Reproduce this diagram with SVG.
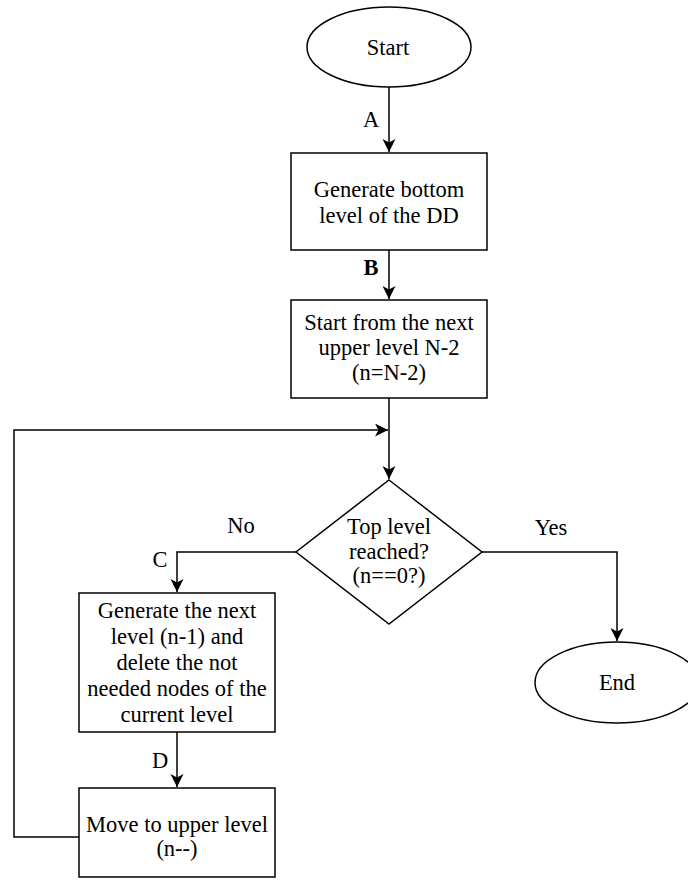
<svg xmlns="http://www.w3.org/2000/svg" width="688" height="886" viewBox="0 0 688 886">
  <style>
    .shape { fill: #ffffff; stroke: #000000; stroke-width: 1.5; }
    .edge { fill: none; stroke: #000000; stroke-width: 1.5; }
    .t { font-family: 'Liberation Serif', 'DejaVu Serif', serif; font-size: 22.5px; fill: #000000; text-anchor: middle; }
    .b { font-weight: bold; }
  </style>
  <defs>
    <marker id="arrow" markerUnits="userSpaceOnUse" markerWidth="14" markerHeight="14" refX="13" refY="6.5" orient="auto">
      <path d="M0,0 L13,6.5 L0,13 L3.5,6.5 Z" fill="#000000"/>
    </marker>
  </defs>

  <rect width="688" height="886" fill="#ffffff"/>

  <!-- connectors -->
  <g id="connectors">
    <path class="edge" d="M389,87 L389,152" marker-end="url(#arrow)"/>
    <path class="edge" d="M389,250 L389,299" marker-end="url(#arrow)"/>
    <path class="edge" d="M389,398 L389,479" marker-end="url(#arrow)"/>
    <path class="edge" d="M296,552 L177,552 L177,592" marker-end="url(#arrow)"/>
    <path class="edge" d="M482,552 L617,552 L617,641" marker-end="url(#arrow)"/>
    <path class="edge" d="M177,732 L177,787" marker-end="url(#arrow)"/>
    <path class="edge" d="M79,837 L14,837 L14,430 L388,430" marker-end="url(#arrow)"/>
    <g class="t" font-family="Liberation Serif, DejaVu Serif, serif">
      <text x="371" y="127">A</text>
      <text x="371" y="275" class="b">B</text>
      <text x="241" y="533">No</text>
      <text x="160" y="567">C</text>
      <text x="551" y="535">Yes</text>
      <text x="160" y="768">D</text>
    </g>
  </g>

  <!-- nodes -->
  <g id="start">
    <ellipse class="shape" cx="389" cy="47" rx="82" ry="40"/>
    <text x="388" y="55" class="t">Start</text>
  </g>

  <g id="bottom-level">
    <rect class="shape" x="291" y="153" width="196" height="97"/>
    <text x="389" y="197" class="t">Generate bottom</text>
    <text x="389" y="223" class="t">level of the DD</text>
  </g>

  <g id="next-upper">
    <rect class="shape" x="291" y="300" width="196" height="98"/>
    <text x="389" y="330" class="t">Start from the next</text>
    <text x="389" y="355" class="t">upper level N-2</text>
    <text x="389" y="380" class="t">(n=N-2)</text>
  </g>

  <g id="top-check">
    <path class="shape" d="M389,480 L482,552 L389,624 L296,552 Z"/>
    <text x="389" y="534" class="t">Top level</text>
    <text x="389" y="559" class="t">reached?</text>
    <text x="389" y="583" class="t">(n==0?)</text>
  </g>

  <g id="generate-next">
    <rect class="shape" x="79" y="593" width="196" height="139"/>
    <text x="177" y="618" class="t">Generate the next</text>
    <text x="177" y="644" class="t">level (n-1) and</text>
    <text x="177" y="670" class="t">delete the not</text>
    <text x="177" y="696" class="t">needed nodes of the</text>
    <text x="177" y="722" class="t">current level</text>
  </g>

  <g id="move-up">
    <rect class="shape" x="79" y="788" width="196" height="89"/>
    <text x="177" y="832" class="t">Move to upper level</text>
    <text x="177" y="856" class="t">(n--)</text>
  </g>

  <g id="end">
    <ellipse class="shape" cx="617" cy="682.5" rx="82" ry="40.5"/>
    <text x="617" y="690" class="t">End</text>
  </g>
</svg>
